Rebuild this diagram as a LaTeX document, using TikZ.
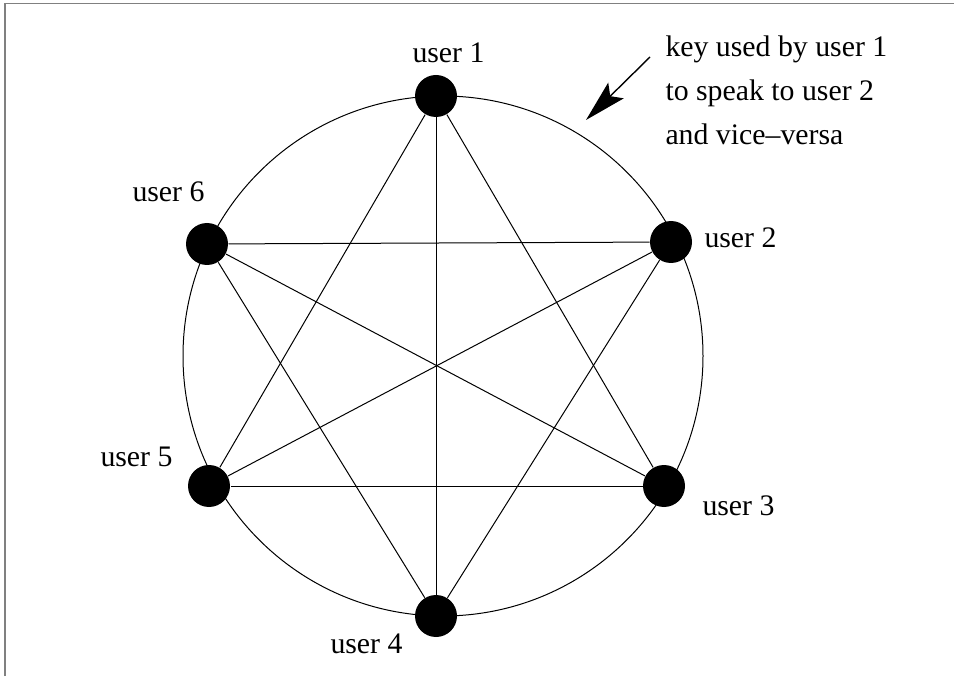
\documentclass[tikz,border=0pt]{standalone}
\usepackage{fontspec}
\setmainfont{Liberation Serif}
\usetikzlibrary{arrows.meta}

\begin{document}
\begin{tikzpicture}[x=0.5pt, y=0.5pt, >={Stealth[length=21pt, width=11pt, inset=4pt]},
  font=\fontsize{14.9}{22}\selectfont, line width=0.5pt,
  usr/.style={circle, fill=black, minimum size=21pt, inner sep=0pt},
  lbl/.style={anchor=base west, inner sep=0pt},
  note/.style={anchor=north west, inner sep=0pt, align=left}]
  \useasboundingbox (0,0) rectangle (954,676);
  \draw[black!50, line width=0.8pt] (5,0) -- (5,672.5) -- (954,672.5);
  % the ring
  \coordinate (ctr) at (443,320);
  \draw (ctr) circle[radius=260];
  % users
  \node[usr] (u1) at (436,580) {};
  \node[usr] (u2) at (671,434) {};
  \node[usr] (u3) at (664,190) {};
  \node[usr] (u4) at (436,60) {};
  \node[usr] (u5) at (209,190) {};
  \node[usr] (u6) at (207,432) {};
  \node[lbl] (l1) at (412,613) {user 1};
  \node[lbl] (l2) at (704,428) {user 2};
  \node[lbl] (l3) at (702,161) {user 3};
  \node[lbl] (l4) at (330,23) {user 4};
  \node[lbl] (l5) at (100,210) {user 5};
  \node[lbl] (l6) at (132,474) {user 6};
  % keys between users that are not neighbours
  \foreach \a/\b in {1/3, 1/4, 1/5, 2/4, 2/5, 2/6, 3/5, 3/6, 4/6}
    \draw (u\a) -- (u\b);
  % note
  \node[note] (key) at (665,641) {key used by user 1\\to speak to user 2\\and vice--versa};
  \coordinate (keytail) at (650,619);
  \coordinate (keytip) at (586,556);
  \draw[->, line width=0.7pt] (keytail) -- (keytip);
\end{tikzpicture}
\end{document}
